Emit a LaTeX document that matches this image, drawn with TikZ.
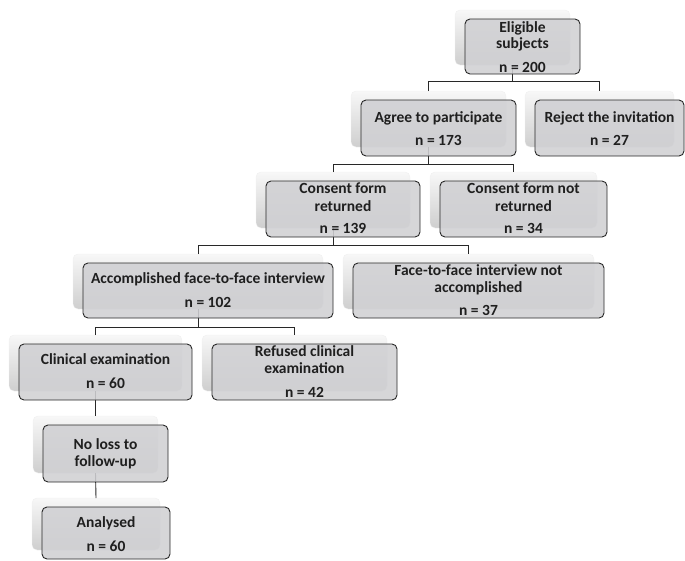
\documentclass[tikz,border=0pt]{standalone}
\usepackage{fontspec}
\setmainfont{Carlito}
\definecolor{frontfill}{RGB}{208,208,211}
\definecolor{edge}{RGB}{40,40,40}
\tikzset{
  frontbox/.style={draw=edge, line width=0.9pt, fill=frontfill, fill opacity=0.88, rounded corners=5pt, inner sep=0pt, outer sep=0pt},
  backbox/.style={top color=gray!6, bottom color=gray!38, rounded corners=5pt, inner sep=0pt, outer sep=0pt, draw=gray!12, line width=0.4pt},
  conn/.style={draw=edge, line width=0.9pt},
  txt/.style={anchor=base, inner sep=0pt, font=\fontsize{15.5}{17}\selectfont\bfseries, text=black!88}
}
% name, x1, y1, x2, y2
\newcommand\backb[5]{\node[backbox, minimum width={(#4-#2)*1pt}, minimum height={(#5-#3)*1pt}] (#1-s) at ({(#2+#4)/2-10},{(#3+#5)/2-9}) {};}
\newcommand\frontb[5]{\node[frontbox, minimum width={(#4-#2)*1pt}, minimum height={(#5-#3)*1pt}] (#1) at ({(#2+#4)/2},{(#3+#5)/2}) {};}
\begin{document}
\begin{tikzpicture}[x=1pt,y=-1pt]
\useasboundingbox (0,0) rectangle (685,560);
% back (shadow) boxes
\backb{elig}{465}{19}{580}{74}
\backb{agree}{361}{100}{516}{156}
\backb{reject}{535}{100}{684}{156}
\backb{cret}{266}{181}{420}{237}
\backb{cnot}{440}{181}{607}{237}
\backb{acc}{83}{263}{333}{318}
\backb{fnot}{353}{263}{604}{318}
\backb{clin}{19}{344}{192}{400}
\backb{refu}{212}{344}{397}{400}
\backb{noloss}{43}{425}{168}{482}
\backb{anal}{42}{507}{170}{559}
% junction coordinates
\coordinate (j1) at (513,81);
\coordinate (j2) at (427,164);
\coordinate (j3) at (333,245);
\coordinate (j4) at (199,327);
% connectors
\draw[conn] (elig-s.south) -- (elig-s.south |- j1);
\draw[conn] (agree-s.north) -- (agree-s.north |- j1) -- (reject-s.north |- j1) -- (reject-s.north);
\draw[conn] (agree-s.south) -- (agree-s.south |- j2);
\draw[conn] (cret-s.north) -- (cret-s.north |- j2) -- (cnot-s.north |- j2) -- (cnot-s.north);
\draw[conn] (cret-s.south) -- (cret-s.south |- j3);
\draw[conn] (acc-s.north) -- (acc-s.north |- j3) -- (fnot-s.north |- j3) -- (fnot-s.north);
\draw[conn] (acc-s.south) -- (acc-s.south |- j4);
\draw[conn] (clin-s.north) -- (clin-s.north |- j4) -- (refu-s.north |- j4) -- (refu-s.north);
\draw[conn] (clin-s.south) -- (noloss-s.north);
\draw[conn] (noloss-s.south) -- (anal-s.north);
% front boxes
\frontb{elig}{465}{19}{580}{74}
\frontb{agree}{361}{100}{516}{156}
\frontb{reject}{535}{100}{684}{156}
\frontb{cret}{266}{181}{420}{237}
\frontb{cnot}{440}{181}{607}{237}
\frontb{acc}{83}{263}{333}{318}
\frontb{fnot}{353}{263}{604}{318}
\frontb{clin}{19}{344}{192}{400}
\frontb{refu}{212}{344}{397}{400}
\frontb{noloss}{43}{425}{168}{482}
\frontb{anal}{42}{507}{170}{559}
% texts
\node[txt] (elig-t1) at (elig |- 0,32) {Eligible};
\node[txt] (elig-t2) at (elig |- 0,48) {subjects};
\node[txt] (elig-t3) at (elig |- 0,72) {n = 200};
\node[txt] (agree-t1) at (agree |- 0,122) {Agree to participate};
\node[txt] (agree-t2) at (agree |- 0,145) {n = 173};
\node[txt] (reject-t1) at (reject |- 0,122) {Reject the invitation};
\node[txt] (reject-t2) at (reject |- 0,145) {n = 27};
\node[txt] (cret-t1) at (cret |- 0,193) {Consent form};
\node[txt] (cret-t2) at (cret |- 0,211) {returned};
\node[txt] (cret-t3) at (cret |- 0,233) {n = 139};
\node[txt] (cnot-t1) at (cnot |- 0,193) {Consent form not};
\node[txt] (cnot-t2) at (cnot |- 0,211) {returned};
\node[txt] (cnot-t3) at (cnot |- 0,233) {n = 34};
\node[txt] (acc-t1) at (acc |- 0,283) {Accomplished face-to-face interview};
\node[txt] (acc-t2) at (acc |- 0,307) {n = 102};
\node[txt] (fnot-t1) at (fnot |- 0,275) {Face-to-face interview not};
\node[txt] (fnot-t2) at (fnot |- 0,292) {accomplished};
\node[txt] (fnot-t3) at (fnot |- 0,315) {n = 37};
\node[txt] (clin-t1) at (clin |- 0,364) {Clinical examination};
\node[txt] (clin-t2) at (clin |- 0,388) {n = 60};
\node[txt] (refu-t1) at (refu |- 0,356) {Refused clinical};
\node[txt] (refu-t2) at (refu |- 0,373) {examination};
\node[txt] (refu-t3) at (refu |- 0,397) {n = 42};
\node[txt] (noloss-t1) at (noloss |- 0,449) {No loss to};
\node[txt] (noloss-t2) at (noloss |- 0,466) {follow-up};
\node[txt] (anal-t1) at (anal |- 0,527) {Analysed};
\node[txt] (anal-t2) at (anal |- 0,551) {n = 60};
\end{tikzpicture}
\end{document}
